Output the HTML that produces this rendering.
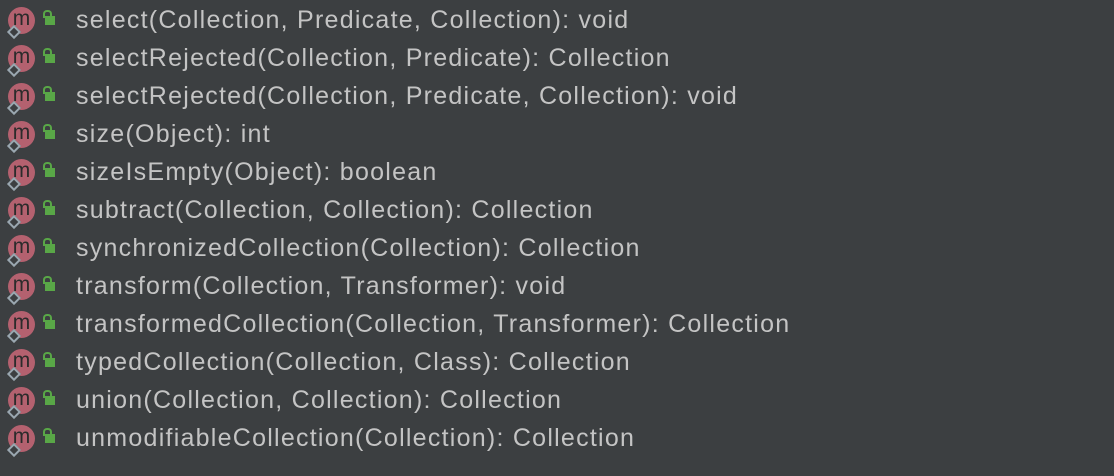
<!DOCTYPE html>
<html><head><style>
body{margin:0;width:1114px;height:446px;background:#3c3f41;overflow:hidden;font-family:"Liberation Sans",sans-serif;}
.r{position:absolute;left:0;height:38px;width:1114px;}
.c{position:absolute;left:8px;top:-13px;width:27px;height:27px;border-radius:50%;background:#b4616f;color:#2b2b2b;font-size:21px;line-height:24px;text-align:center;}
.d{position:absolute;left:9px;top:7px;width:6px;height:6px;border:2px solid #9aa7b0;background:#3c3f41;transform:rotate(45deg);}
.l{position:absolute;left:45px;top:-4px;width:10px;height:9px;background:#59a747;}
.s{position:absolute;left:43px;top:-10px;width:5px;height:6px;border:2px solid #59a747;border-bottom:none;border-radius:4px 4px 0 0;}
.t{position:absolute;left:76px;top:-14px;font-size:25px;letter-spacing:1.25px;color:#c4c4c4;white-space:nowrap;}
</style></head><body>
<div class="r" style="top:20px"><div class="c">m</div><div class="d"></div><div class="s"></div><div class="l"></div><div class="t">select(Collection, Predicate, Collection): void</div></div>
<div class="r" style="top:58px"><div class="c">m</div><div class="d"></div><div class="s"></div><div class="l"></div><div class="t">selectRejected(Collection, Predicate): Collection</div></div>
<div class="r" style="top:96px"><div class="c">m</div><div class="d"></div><div class="s"></div><div class="l"></div><div class="t">selectRejected(Collection, Predicate, Collection): void</div></div>
<div class="r" style="top:134px"><div class="c">m</div><div class="d"></div><div class="s"></div><div class="l"></div><div class="t">size(Object): int</div></div>
<div class="r" style="top:172px"><div class="c">m</div><div class="d"></div><div class="s"></div><div class="l"></div><div class="t">sizeIsEmpty(Object): boolean</div></div>
<div class="r" style="top:210px"><div class="c">m</div><div class="d"></div><div class="s"></div><div class="l"></div><div class="t">subtract(Collection, Collection): Collection</div></div>
<div class="r" style="top:248px"><div class="c">m</div><div class="d"></div><div class="s"></div><div class="l"></div><div class="t">synchronizedCollection(Collection): Collection</div></div>
<div class="r" style="top:286px"><div class="c">m</div><div class="d"></div><div class="s"></div><div class="l"></div><div class="t">transform(Collection, Transformer): void</div></div>
<div class="r" style="top:324px"><div class="c">m</div><div class="d"></div><div class="s"></div><div class="l"></div><div class="t">transformedCollection(Collection, Transformer): Collection</div></div>
<div class="r" style="top:362px"><div class="c">m</div><div class="d"></div><div class="s"></div><div class="l"></div><div class="t">typedCollection(Collection, Class): Collection</div></div>
<div class="r" style="top:400px"><div class="c">m</div><div class="d"></div><div class="s"></div><div class="l"></div><div class="t">union(Collection, Collection): Collection</div></div>
<div class="r" style="top:438px"><div class="c">m</div><div class="d"></div><div class="s"></div><div class="l"></div><div class="t">unmodifiableCollection(Collection): Collection</div></div>
</body></html>
